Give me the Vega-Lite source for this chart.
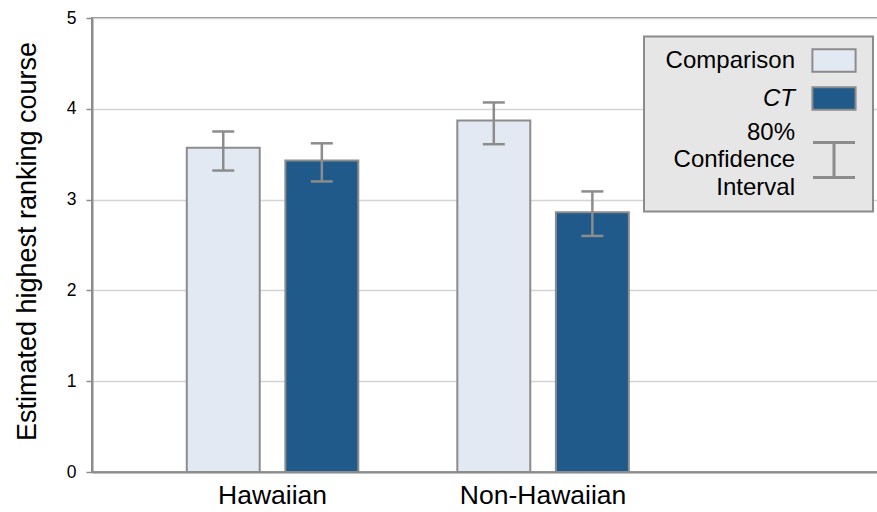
{
  "$schema": "https://vega.github.io/schema/vega-lite/v6.json",
  "width": 790,
  "height": 454,
  "autosize": {"type": "none"},
  "padding": {"left": 92, "top": 18, "right": 0, "bottom": 40},
  "background": "white",
  "config": {
    "font": "Liberation Sans",
    "view": {"stroke": "#8c8c8c", "strokeWidth": 2},
    "legend": {"strokeWidth": 2},
    "style": {"guide-label": {"lineHeight": 27.5}}
  },
  "data": {
    "values": [
      {"population": "Hawaiian", "group": "Comparison", "estimate": 3.57, "lo": 3.32, "hi": 3.75},
      {"population": "Hawaiian", "group": "CT", "estimate": 3.43, "lo": 3.2, "hi": 3.62},
      {"population": "Non-Hawaiian", "group": "Comparison", "estimate": 3.87, "lo": 3.61, "hi": 4.07},
      {"population": "Non-Hawaiian", "group": "CT", "estimate": 2.86, "lo": 2.6, "hi": 3.09}
    ]
  },
  "encoding": {
    "x": {
      "field": "population",
      "type": "nominal",
      "sort": ["Hawaiian", "Non-Hawaiian"],
      "title": null,
      "scale": {"paddingInner": 0.366, "paddingOuter": 0.643, "align": 0.2724},
      "axis": {
        "labelAngle": 0,
        "ticks": false,
        "grid": false,
        "labelFontSize": 26.5,
        "labelColor": "#000000",
        "labelPadding": 10,
        "domainColor": "#8c8c8c",
        "domainWidth": 2
      }
    },
    "xOffset": {
      "field": "group",
      "type": "nominal",
      "sort": ["Comparison", "CT"],
      "scale": {"paddingInner": 0.26, "paddingOuter": 0}
    }
  },
  "layer": [
    {
      "mark": {"type": "bar", "stroke": "#8c8c8c"},
      "encoding": {
        "y": {
          "field": "estimate",
          "type": "quantitative",
          "scale": {"domain": [0, 5], "nice": false},
          "axis": {
            "title": "Estimated highest ranking course",
            "values": [0, 1, 2, 3, 4, 5],
            "format": "d",
            "grid": true,
            "gridColor": "#d4d4d4",
            "gridWidth": 1.5,
            "domainColor": "#8c8c8c",
            "domainWidth": 2,
            "tickColor": "#8c8c8c",
            "tickSize": 6,
            "tickWidth": 1.5,
            "labelFontSize": 17.5,
            "labelColor": "#000000",
            "labelPadding": 10,
            "titleFontSize": 27,
            "titleFontWeight": "normal",
            "titleColor": "#000000",
            "titleAngle": 270,
            "titleBaseline": "middle",
            "titleAlign": "center",
            "titleX": -65,
            "titleY": 223
          }
        },
        "strokeWidth": {"value": 2},
        "fill": {
          "field": "group",
          "type": "nominal",
          "scale": {
            "domain": ["Comparison", "CT", "CI"],
            "range": ["#e3e9f2", "#1f5a8a", "transparent"]
          },
          "legend": {
            "orient": "none",
            "legendX": 552,
            "legendY": 18.5,
            "title": null,
            "fillColor": "#e6e6e6",
            "strokeColor": "#8c8c8c",
            "padding": 12,
            "labelFont": "Liberation Sans",
            "labelFontSize": 24,
            "labelColor": "#000000",
            "labelAlign": "right",
            "labelLimit": 300,
            "labelOffset": -51,
            "labelFontStyle": {"expr": "datum.value == 'CT' ? 'italic' : 'normal'"},
            "labelExpr": "datum.value == 'CI' ? ['80%', 'Confidence', 'Interval'] : datum.value",
            "symbolSize": 400,
            "symbolOffset": 166,
            "symbolStrokeColor": "#8c8c8c",
            "symbolStrokeWidth": {"expr": "datum.value == 'CI' ? 3 : 2"},
            "symbolType": {"expr": "datum.value == 'CI' ? 'M-2.1,1H2.1M0,1V4.5M-2.1,4.5H2.1' : 'M-2.16,-1.12H2.16V1.12H-2.16Z'"},
            "rowPadding": 6
          }
        }
      }
    },
    {
      "mark": {"type": "rule", "stroke": "#8c8c8c", "strokeWidth": 2.5},
      "encoding": {
        "y": {"field": "lo", "type": "quantitative"},
        "y2": {"field": "hi"}
      }
    },
    {
      "mark": {"type": "tick", "color": "#8c8c8c", "size": 22, "thickness": 2.5, "opacity": 1},
      "encoding": {"y": {"field": "lo", "type": "quantitative"}}
    },
    {
      "mark": {"type": "tick", "color": "#8c8c8c", "size": 22, "thickness": 2.5, "opacity": 1},
      "encoding": {"y": {"field": "hi", "type": "quantitative"}}
    }
  ]
}
